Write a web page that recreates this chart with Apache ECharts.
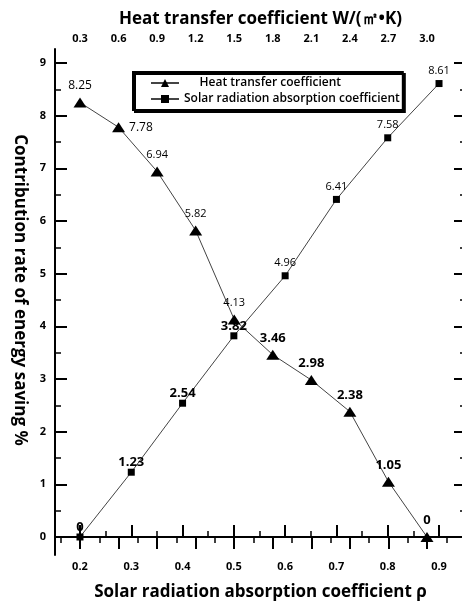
<!DOCTYPE html>
<html>
<head>
<meta charset="utf-8">
<script src="https://cdn.jsdelivr.net/npm/echarts@6/dist/echarts.min.js"></script>
<style>
html,body{margin:0;padding:0;background:#fff;}
#chart{width:462px;height:604px;}
</style>
</head>
<body>
<div id="chart"></div>
<script>
// 太阳辐射吸收系数 / 传热系数 对节能贡献率
var rhoValues=[0.2,0.3,0.4,0.5,0.6,0.7,0.8,0.9];
var solarRate=[0,1.23,2.54,3.82,4.96,6.41,7.58,8.61];
var kValues=[0.3,0.6,0.9,1.2,1.5,1.8,2.1,2.4,2.7,3.0];
var heatRate=[8.25,7.78,6.94,5.82,4.13,3.46,2.98,2.38,1.05,0];

var rhoTicks=[0.2,0.3,0.4,0.5,0.6,0.7,0.8,0.9];
var rhoMinor=[0.25,0.35,0.45,0.55,0.65,0.75,0.85];
var kTicks=[0.3,0.6,0.9,1.2,1.5,1.8,2.1,2.4,2.7,3.0];
var kMinor=[0.15,0.45,0.75,1.05,1.35,1.65,1.95,2.25,2.55,2.85,3.15];
var rateTicks=[0,1,2,3,4,5,6,7,8,9];
var rateMinor=[0.5,1.5,2.5,3.5,4.5,5.5,6.5,7.5,8.5];

var FONT='Open Sans';
var ele=document.getElementById('chart');
var chart=echarts.init(ele);

function labelFor(v,isTri){
	var big = v<4;
	return {
		show:true,
		position:'top',
		distance: big ? (isTri?5:0) : (isTri?6:4),
		color:'#000',
		fontFamily:FONT,
		fontSize: big?13:11,
		fontWeight: big?'bold':'normal'
	};
}

var solarData=[];
for(var i=0;i<rhoValues.length;i++){
	solarData.push({value:[rhoValues[i],solarRate[i]],label:labelFor(solarRate[i],false)});
}
var heatData=[];
for(var j=0;j<kValues.length;j++){
	var lb=labelFor(heatRate[j],true);
	if(j==1){ lb.position='right'; lb.distance=4; lb.fontSize=12; }
	if(j==0){ lb.fontSize=12; }
	heatData.push({value:[kValues[j],heatRate[j]],label:lb});
}

var XB_MIN=0.1513, XB_MAX=0.9526;
var XT_MIN=0.1054, XT_MAX=3.3035;
var Y_MIN=-0.342, Y_MAX=9.266;

var tickLabel={fontFamily:FONT,fontSize:11,fontWeight:'bold',color:'#000'};
var blackLine={show:true,lineStyle:{color:'#000',width:2}};

function fmt1(v){ return (Math.round(v*10)/10).toFixed(1); }

function axisSet(pos,min,max,major,minor,label,name){
	var a={
		type:'value',position:pos,min:min,max:max,
		axisLine:blackLine,
		splitLine:{show:false},
		axisTick:{show:true,inside:true,length:12,customValues:major,lineStyle:{color:'#000',width:2}},
		axisLabel:label ? Object.assign({show:true,customValues:major},tickLabel,label) : {show:false}
	};
	if(name){ Object.assign(a,name); }
	var b={
		type:'value',position:pos,min:min,max:max,
		axisLine:{show:false},
		splitLine:{show:false},
		axisTick:{show:true,inside:true,length:6,customValues:minor,lineStyle:{color:'#000',width:1.5}},
		axisLabel:{show:false}
	};
	return [a,b];
}

var nameStyle={fontFamily:FONT,fontSize:17,fontWeight:'bold',color:'#000'};

var xb=axisSet('bottom',XB_MIN,XB_MAX,rhoTicks,rhoMinor,{margin:6,formatter:fmt1},{
	name:'Solar radiation absorption coefficient ρ',nameLocation:'middle',nameGap:29,nameTextStyle:nameStyle});
var xt=axisSet('top',XT_MIN,XT_MAX,kTicks,kMinor,{margin:5,formatter:fmt1},{
	name:'Heat transfer coefficient W/(㎡•K)',nameLocation:'middle',nameGap:21,nameTextStyle:nameStyle});
var yl=axisSet('left',Y_MIN,Y_MAX,rateTicks,rateMinor,{margin:9},{
	name:'Contribution rate of energy saving %',nameLocation:'middle',nameGap:26,nameRotate:-90,
	nameTextStyle:Object.assign({padding:[0,24,0,0]},nameStyle)});
var yr=axisSet('right',Y_MIN,Y_MAX,rateTicks,rateMinor,null,null);

var options={
	backgroundColor:'#ffffff',
	animation:false,
	grid:{left:55,top:49,width:411,height:506,containLabel:false,outerBoundsMode:'none'},
	legend:{
		orient:'vertical',
		left:133,top:72,
		padding:[5,3,5,17],
		itemGap:4,
		itemWidth:28,itemHeight:10,
		backgroundColor:'#fff',
		borderColor:'#000',borderWidth:2,
		shadowColor:'#000',shadowOffsetX:2,shadowOffsetY:2,shadowBlur:0,
		textStyle:{fontFamily:FONT,fontSize:12,fontWeight:600,color:'#000'},
		formatter:function(n){ return n=='Heat transfer coefficient' ? '     '+n : n; },
		data:['Heat transfer coefficient','Solar radiation absorption coefficient']
	},
	xAxis:[xb[0],xb[1],xt[0],xt[1]],
	yAxis:[yl[0],yl[1],yr[0],yr[1]],
	series:[
		{
			name:'Heat transfer coefficient',
			type:'line',
			xAxisIndex:2,yAxisIndex:0,
			symbol:'triangle',symbolSize:[13,10],
			itemStyle:{color:'#000'},
			lineStyle:{color:'#444',width:1},
			data:heatData
		},
		{
			name:'Solar radiation absorption coefficient',
			type:'line',
			xAxisIndex:0,yAxisIndex:0,
			symbol:'rect',symbolSize:7,
			itemStyle:{color:'#000'},
			lineStyle:{color:'#444',width:1},
			data:solarData
		}
	]
};
chart.setOption(options);
</script>
</body>
</html>
